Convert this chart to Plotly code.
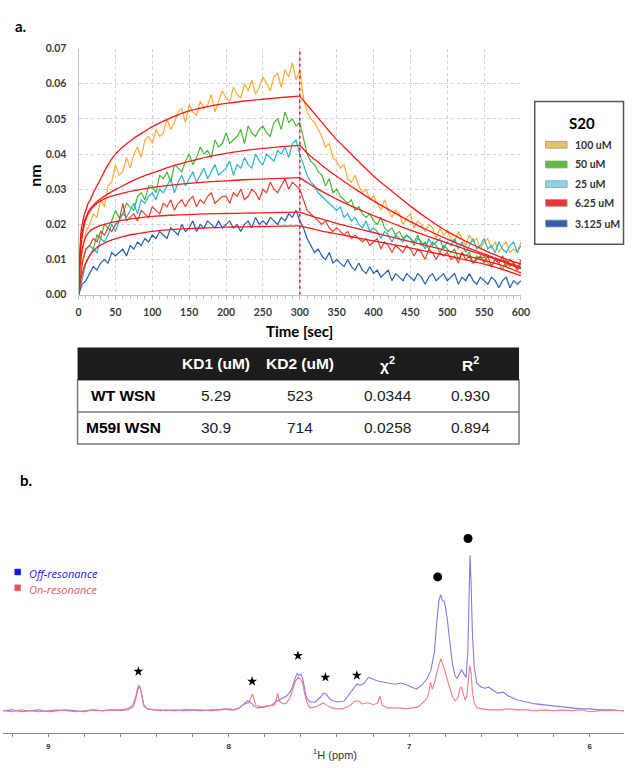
import plotly.graph_objects as go

W, H = 633, 768

# ---------------- Panel a : sensorgram data ----------------
SERIES_NAMES = ["100 uM", "50 uM", "25 uM", "6.25 uM", "3.125 uM"]
LINE_COLORS = ["#FFAA33", "#45B935", "#25B4CC", "#E8402C", "#2260B2"]
SWATCH_COLORS = ["#E8BE62", "#5CBF3A", "#8ED4E8", "#EE3535", "#2E5FB0"]
TIME_STEP = 5  # seconds between samples
SWITCH_T = 300  # association -> dissociation

data_100 = [
    0.000, 0.012, 0.018, 0.020, 0.023, 0.022, 0.027, 0.025, 0.031, 0.032,
    0.037, 0.034, 0.035, 0.039, 0.036, 0.040, 0.042, 0.039, 0.044, 0.045,
    0.043, 0.047, 0.045, 0.046, 0.050, 0.047, 0.049, 0.052, 0.053, 0.049,
    0.054, 0.052, 0.051, 0.055, 0.053, 0.054, 0.057, 0.052, 0.055, 0.058,
    0.056, 0.055, 0.059, 0.057, 0.056, 0.060, 0.058, 0.061, 0.057, 0.059,
    0.062, 0.060, 0.058, 0.062, 0.063, 0.059, 0.064, 0.062, 0.066, 0.061,
    0.064, 0.056, 0.052, 0.050, 0.049, 0.047, 0.045, 0.042, 0.043, 0.039,
    0.038, 0.036, 0.037, 0.033, 0.032, 0.034, 0.031, 0.029, 0.030, 0.027,
    0.028, 0.026, 0.024, 0.027, 0.024, 0.022, 0.024, 0.023, 0.020, 0.022,
    0.023, 0.019, 0.021, 0.020, 0.018, 0.020, 0.019, 0.016, 0.019, 0.017,
    0.018, 0.016, 0.015, 0.018, 0.016, 0.014, 0.017, 0.015, 0.016, 0.013,
    0.015, 0.016, 0.013, 0.015, 0.012, 0.014, 0.015, 0.012, 0.013, 0.012,
    0.015,
]
data_50 = [
    0.000, 0.009, 0.013, 0.014, 0.013, 0.017, 0.016, 0.020, 0.019, 0.021,
    0.024, 0.022, 0.023, 0.026, 0.025, 0.024, 0.028, 0.029, 0.027, 0.031,
    0.031, 0.029, 0.034, 0.033, 0.035, 0.032, 0.037, 0.036, 0.035, 0.038,
    0.040, 0.037, 0.039, 0.042, 0.040, 0.041, 0.039, 0.044, 0.042, 0.043,
    0.046, 0.043, 0.044, 0.045, 0.047, 0.043, 0.048, 0.046, 0.045, 0.047,
    0.048, 0.046, 0.045, 0.049, 0.050, 0.047, 0.052, 0.049, 0.050, 0.048,
    0.049, 0.044, 0.040, 0.038, 0.037, 0.035, 0.034, 0.031, 0.033, 0.029,
    0.030, 0.028, 0.027, 0.026, 0.027, 0.024, 0.025, 0.023, 0.022, 0.023,
    0.021, 0.020, 0.022, 0.019, 0.018, 0.019, 0.017, 0.018, 0.016, 0.017,
    0.016, 0.015, 0.017, 0.014, 0.015, 0.013, 0.015, 0.014, 0.012, 0.014,
    0.013, 0.012, 0.013, 0.010, 0.012, 0.011, 0.012, 0.009, 0.011, 0.010,
    0.011, 0.009, 0.008, 0.010, 0.009, 0.007, 0.010, 0.008, 0.009, 0.007,
    0.009,
]
data_25 = [
    0.000, 0.005, 0.009, 0.011, 0.013, 0.012, 0.016, 0.015, 0.017, 0.020,
    0.018, 0.021, 0.023, 0.022, 0.024, 0.026, 0.023, 0.027, 0.026, 0.028,
    0.029, 0.027, 0.030, 0.029, 0.031, 0.033, 0.029, 0.032, 0.034, 0.031,
    0.033, 0.035, 0.032, 0.034, 0.036, 0.033, 0.035, 0.037, 0.034, 0.035,
    0.036, 0.038, 0.034, 0.037, 0.036, 0.039, 0.037, 0.036, 0.040, 0.038,
    0.037, 0.040, 0.039, 0.038, 0.041, 0.040, 0.042, 0.039, 0.043, 0.044,
    0.040, 0.037, 0.034, 0.032, 0.031, 0.029, 0.028, 0.027, 0.026, 0.025,
    0.024, 0.025, 0.022, 0.023, 0.021, 0.022, 0.020, 0.019, 0.021, 0.018,
    0.019, 0.018, 0.016, 0.018, 0.017, 0.015, 0.017, 0.016, 0.015, 0.017,
    0.016, 0.014, 0.016, 0.015, 0.013, 0.016, 0.014, 0.015, 0.016, 0.013,
    0.015, 0.014, 0.016, 0.013, 0.015, 0.012, 0.014, 0.016, 0.013, 0.014,
    0.016, 0.013, 0.014, 0.012, 0.015, 0.013, 0.012, 0.014, 0.015, 0.012,
    0.014,
]
data_6_25 = [
    0.000, 0.009, 0.013, 0.014, 0.016, 0.015, 0.018, 0.017, 0.019, 0.018,
    0.020, 0.021, 0.026, 0.021, 0.022, 0.023, 0.021, 0.024, 0.023, 0.022,
    0.025, 0.024, 0.023, 0.026, 0.025, 0.027, 0.024, 0.026, 0.027, 0.025,
    0.027, 0.028, 0.025, 0.027, 0.026, 0.028, 0.029, 0.026, 0.027, 0.028,
    0.028, 0.026, 0.029, 0.028, 0.030, 0.027, 0.028, 0.030, 0.029, 0.027,
    0.030, 0.029, 0.032, 0.030, 0.029, 0.031, 0.033, 0.030, 0.032, 0.031,
    0.030, 0.027, 0.024, 0.023, 0.022, 0.021, 0.020, 0.021, 0.019, 0.018,
    0.019, 0.018, 0.017, 0.018, 0.016, 0.017, 0.016, 0.015, 0.016, 0.014,
    0.015, 0.016, 0.013, 0.015, 0.014, 0.012, 0.014, 0.013, 0.012, 0.014,
    0.013, 0.011, 0.013, 0.012, 0.010, 0.013, 0.012, 0.010, 0.012, 0.011,
    0.012, 0.010, 0.011, 0.009, 0.012, 0.010, 0.011, 0.009, 0.010, 0.011,
    0.009, 0.011, 0.008, 0.010, 0.009, 0.011, 0.008, 0.010, 0.009, 0.007,
    0.010,
]
data_3_125 = [
    0.000, 0.003, 0.004, 0.006, 0.008, 0.007, 0.009, 0.010, 0.009, 0.012,
    0.011, 0.012, 0.013, 0.011, 0.014, 0.013, 0.015, 0.014, 0.016, 0.015,
    0.017, 0.016, 0.018, 0.017, 0.016, 0.019, 0.018, 0.017, 0.020, 0.018,
    0.019, 0.021, 0.018, 0.020, 0.019, 0.021, 0.020, 0.019, 0.021, 0.019,
    0.020, 0.021, 0.019, 0.020, 0.018, 0.020, 0.021, 0.019, 0.022, 0.020,
    0.021, 0.020, 0.022, 0.021, 0.020, 0.022, 0.021, 0.023, 0.022, 0.024,
    0.021, 0.019, 0.016, 0.014, 0.012, 0.013, 0.011, 0.010, 0.012, 0.009,
    0.010, 0.009, 0.008, 0.010, 0.008, 0.007, 0.009, 0.007, 0.006, 0.008,
    0.006, 0.007, 0.005, 0.006, 0.007, 0.004, 0.006, 0.005, 0.004, 0.006,
    0.005, 0.004, 0.006, 0.005, 0.003, 0.005, 0.006, 0.004, 0.005, 0.006,
    0.004, 0.005, 0.006, 0.003, 0.005, 0.004, 0.006, 0.004, 0.003, 0.005,
    0.004, 0.003, 0.005, 0.004, 0.002, 0.004, 0.005, 0.002, 0.004, 0.003,
    0.004,
]
SERIES_DATA = [data_100, data_50, data_25, data_6_25, data_3_125]

# fitted curves (red), association part sampled at fit_t_on, dissociation at fit_t_off
fit_t_on = [0, 1, 2, 3, 4, 6, 8, 10, 13, 16, 20, 25, 30, 40, 50, 60, 75, 90, 100,
            125, 150, 175, 200, 225, 250, 275, 300]
fit_t_off = [300, 310, 320, 330, 340, 350, 365, 380, 400, 425, 450, 475, 500, 525,
             550, 575, 600]
fit_100_on = [0.000, 0.008, 0.013, 0.017, 0.019, 0.021, 0.023, 0.024, 0.026, 0.027,
              0.029, 0.031, 0.033, 0.037, 0.040, 0.042, 0.0445, 0.0465, 0.0478,
              0.0503, 0.0523, 0.0535, 0.0544, 0.0551, 0.0556, 0.0561, 0.0565]
fit_100_off = [0.0565, 0.0540, 0.0515, 0.0490, 0.0465, 0.0441, 0.0410, 0.0378, 0.0338,
               0.0294, 0.0252, 0.0214, 0.0180, 0.0152, 0.0127, 0.0105, 0.0087]
fit_50_on = [0.000, 0.007, 0.012, 0.015, 0.017, 0.019, 0.021, 0.022, 0.0235, 0.0245,
             0.0255, 0.0265, 0.0273, 0.0287, 0.0299, 0.0310, 0.0326, 0.0339, 0.0346,
             0.0364, 0.0379, 0.0392, 0.0402, 0.0410, 0.0416, 0.0421, 0.0425]
fit_50_off = [0.0425, 0.0403, 0.0385, 0.0368, 0.0352, 0.0337, 0.0315, 0.0294, 0.0267,
              0.0237, 0.0208, 0.0182, 0.0158, 0.0136, 0.0116, 0.0097, 0.0078]
fit_25_on = [0.000, 0.006, 0.010, 0.013, 0.015, 0.018, 0.020, 0.0215, 0.023, 0.024,
             0.025, 0.026, 0.0267, 0.0277, 0.0283, 0.0289, 0.0296, 0.0302, 0.0305,
             0.0312, 0.0317, 0.0321, 0.0324, 0.0327, 0.0329, 0.0331, 0.0333]
fit_25_off = [0.0333, 0.0319, 0.0306, 0.0294, 0.0283, 0.0272, 0.0257, 0.0243, 0.0225,
              0.0204, 0.0184, 0.0165, 0.0147, 0.0129, 0.0112, 0.0094, 0.0074]
fit_6_25_on = [0.000, 0.005, 0.008, 0.010, 0.012, 0.014, 0.0155, 0.0165, 0.0175, 0.0182,
               0.0188, 0.0193, 0.0197, 0.0203, 0.0208, 0.0212, 0.0217, 0.0221, 0.0223,
               0.0226, 0.0228, 0.0230, 0.0231, 0.0232, 0.0233, 0.0234, 0.0235]
fit_6_25_off = [0.0235, 0.0228, 0.0221, 0.0215, 0.0209, 0.0203, 0.0195, 0.0187, 0.0177,
                0.0164, 0.0151, 0.0138, 0.0125, 0.0112, 0.0098, 0.0083, 0.0062]
fit_3_125_on = [0.000, 0.0015, 0.0030, 0.0042, 0.0052, 0.0068, 0.0081, 0.0091, 0.0104,
                0.0114, 0.0124, 0.0134, 0.0141, 0.0152, 0.0159, 0.0165, 0.0172, 0.0177,
                0.0180, 0.0185, 0.0188, 0.0190, 0.0192, 0.0193, 0.0194, 0.0195, 0.0196]
fit_3_125_off = [0.0196, 0.0191, 0.0186, 0.0181, 0.0177, 0.0173, 0.0167, 0.0161, 0.0153,
                 0.0143, 0.0133, 0.0122, 0.0111, 0.0099, 0.0087, 0.0072, 0.0054]
FITS_ON = [fit_100_on, fit_50_on, fit_25_on, fit_6_25_on, fit_3_125_on]
FITS_OFF = [fit_100_off, fit_50_off, fit_25_off, fit_6_25_off, fit_3_125_off]

X_TICKS_A = [0, 50, 100, 150, 200, 250, 300, 350, 400, 450, 500, 550, 600]
Y_TICKS_A = [0.00, 0.01, 0.02, 0.03, 0.04, 0.05, 0.06, 0.07]
Y_TICK_TEXT_A = ["0.00", "0.01", "0.02", "0.03", "0.04", "0.05", "0.06", "0.07"]

# ---------------- Table ----------------
TABLE_HEADERS = ["KD1 (uM)", "KD2 (uM)", "χ<sup>2</sup>", "R<sup>2</sup>"]
TABLE_ROWS = ["WT WSN", "M59I WSN"]
KD1 = ["5.29", "30.9"]
KD2 = ["523", "714"]
CHI2 = ["0.0344", "0.0258"]
R2 = ["0.930", "0.894"]

# ---------------- Panel b : STD NMR spectra ----------------
off_ppm = [9.25, 9.20, 9.15, 9.10, 9.05, 9.00, 8.95, 8.90, 8.85, 8.80, 8.75, 8.70,
           8.65, 8.60, 8.56, 8.53, 8.515, 8.505, 8.497, 8.49, 8.48, 8.47, 8.45,
           8.42, 8.38, 8.35, 8.30, 8.25, 8.20, 8.15, 8.10, 8.05, 8.00, 7.97,
           7.94, 7.91, 7.895, 7.88, 7.86, 7.84, 7.80, 7.76, 7.74, 7.72, 7.70,
           7.68, 7.66, 7.645, 7.63, 7.62, 7.61, 7.60, 7.59, 7.58, 7.57, 7.55,
           7.52, 7.49, 7.475, 7.46, 7.44, 7.42, 7.39, 7.36, 7.33, 7.30, 7.29,
           7.27, 7.25, 7.23, 7.22, 7.20, 7.17, 7.14, 7.11, 7.08, 7.05, 7.04,
           7.01, 6.98, 6.96, 6.93, 6.90, 6.88, 6.86, 6.845, 6.835, 6.826,
           6.815, 6.805, 6.79, 6.775, 6.76, 6.745, 6.735, 6.72, 6.71, 6.695,
           6.685, 6.675, 6.668, 6.663, 6.657, 6.65, 6.64, 6.625, 6.60, 6.58,
           6.56, 6.53, 6.51, 6.48, 6.45, 6.40, 6.35, 6.30, 6.25, 6.20, 6.15,
           6.10, 6.05, 6.00, 5.95, 5.90, 5.81]
off_int = [0, 1, -1, 0, 1, -1, 0, 1, 0, -1, 1, 0,
           1, 0, 1, 4, 12, 22, 26, 24, 14, 6, 2,
           1, 0, 1, 0, 1, 1, 0, 1, 1, 2, 1,
           3, 8, 10, 9, 5, 3, 4, 6, 9, 11, 13,
           15, 19, 25, 34, 38, 36, 37, 33, 22, 14, 9,
           9, 14, 18, 17, 12, 10, 9, 10, 17, 25, 27,
           26, 28, 33, 34, 32, 30, 29, 28, 27, 28, 28,
           26, 24, 22, 26, 33, 41, 60, 95, 112, 118,
           112, 111, 95, 70, 48, 35, 33, 38, 42, 37,
           34, 60, 120, 158, 130, 80, 45, 28, 24, 23,
           24, 20, 18, 19, 15, 11, 9, 7, 6, 5, 4,
           3, 2, 2, 1, 1, 0]
on_ppm = [9.25, 9.20, 9.15, 9.10, 9.05, 9.00, 8.95, 8.90, 8.85, 8.80, 8.75, 8.70,
          8.65, 8.60, 8.56, 8.53, 8.515, 8.505, 8.497, 8.49, 8.48, 8.47, 8.45,
          8.42, 8.38, 8.35, 8.30, 8.25, 8.20, 8.15, 8.10, 8.05, 8.02, 8.00,
          7.97, 7.94, 7.91, 7.89, 7.875, 7.868, 7.86, 7.85, 7.82, 7.78, 7.745,
          7.735, 7.728, 7.72, 7.70, 7.68, 7.66, 7.645, 7.63, 7.615, 7.60, 7.59,
          7.58, 7.565, 7.55, 7.52, 7.49, 7.475, 7.46, 7.43, 7.40, 7.37, 7.33,
          7.30, 7.28, 7.26, 7.24, 7.22, 7.20, 7.175, 7.162, 7.15, 7.12, 7.08,
          7.05, 7.02, 6.98, 6.95, 6.92, 6.90, 6.89, 6.882, 6.872, 6.86, 6.845,
          6.83, 6.825, 6.815, 6.80, 6.78, 6.76, 6.745, 6.73, 6.718, 6.71, 6.70,
          6.69, 6.68, 6.672, 6.665, 6.657, 6.65, 6.64, 6.625, 6.60, 6.55, 6.50,
          6.45, 6.40, 6.35, 6.30, 6.25, 6.20, 6.15, 6.10, 6.05, 6.00, 5.95,
          5.90, 5.81]
on_int = [0, -1, 1, 0, -1, 0, 1, 0, -1, 0, 1, 0,
          1, 1, 2, 6, 14, 23, 26, 23, 12, 5, 2,
          1, 1, 0, 1, 0, 1, 1, 0, 1, 2, 1,
          1, 3, 7, 8, 14, 17, 12, 6, 4, 5, 6,
          12, 18, 10, 7, 8, 13, 22, 30, 34, 32, 28,
          18, 8, 3, 4, 7, 8, 6, 3, 2, 2, 5,
          10, 10, 7, 8, 8, 6, 8, 15, 6, 3, 3,
          3, 2, 3, 4, 9, 13, 20, 29, 22, 28, 40,
          50, 53, 48, 38, 25, 14, 10, 13, 23, 24, 17,
          11, 15, 30, 46, 38, 20, 8, 3, 2, 1, 1,
          2, 1, 1, 0, 1, 0, 1, 0, 1, -1, 0,
          1, 0]
star_ppm = [8.50, 7.87, 7.616, 7.464, 7.29]
star_int = [40, 30, 56, 34, 36]
dot_ppm = [6.842, 6.674]
dot_int = [136, 175]
X_TICKS_B = [9, 8, 7, 6]


# ---------------- helpers (pixel -> paper) ----------------
def px(x):
    return x / W


def py(y):
    return 1 - y / H


fig = go.Figure()

for name, color, vals in zip(SERIES_NAMES, LINE_COLORS, SERIES_DATA):
    t_axis = [TIME_STEP * i for i in range(len(vals))]
    fig.add_trace(go.Scatter(x=t_axis, y=vals, mode="lines", name=name,
                             line=dict(color=color, width=1.2),
                             xaxis="x", yaxis="y", showlegend=False))
for f_on, f_off in zip(FITS_ON, FITS_OFF):
    fig.add_trace(go.Scatter(x=fit_t_on, y=f_on, mode="lines", name="fit",
                             line=dict(color="#FF1A1A", width=1.3, shape="spline",
                                       smoothing=0.6),
                             xaxis="x", yaxis="y", showlegend=False))
    fig.add_trace(go.Scatter(x=fit_t_off, y=f_off, mode="lines", name="fit",
                             line=dict(color="#FF1A1A", width=1.3, shape="spline",
                                       smoothing=0.6),
                             xaxis="x", yaxis="y", showlegend=False))

fig.add_trace(go.Scatter(x=off_ppm, y=off_int, mode="lines", name="Off-resonance",
                         line=dict(color="#8877EE", width=1.1),
                         xaxis="x2", yaxis="y2", showlegend=False))
fig.add_trace(go.Scatter(x=on_ppm, y=on_int, mode="lines", name="On-resonance",
                         line=dict(color="#F27A8A", width=1.1),
                         xaxis="x2", yaxis="y2", showlegend=False))
fig.add_trace(go.Scatter(x=star_ppm, y=star_int, mode="markers",
                         marker=dict(symbol="star", size=7.5, color="black"),
                         xaxis="x2", yaxis="y2", showlegend=False))
fig.add_trace(go.Scatter(x=dot_ppm, y=dot_int, mode="markers",
                         marker=dict(symbol="circle", size=9, color="black"),
                         xaxis="x2", yaxis="y2", showlegend=False))

tickfont_a = dict(family="Lato", size=10.5, color="#3c3c3c", weight="bold")
grid_c = "#C9D3DE"

fig.update_layout(
    width=W, height=H,
    margin=dict(l=0, r=0, t=0, b=0),
    paper_bgcolor="white", plot_bgcolor="white",
    xaxis=dict(domain=[px(77), px(528)], range=[0, 600], anchor="y",
               tickvals=X_TICKS_A, showgrid=True, gridcolor=grid_c, griddash="dot",
               gridwidth=1, showline=True, linecolor="#B8C6D4", linewidth=1,
               ticks="outside", ticklen=4, tickcolor="#B8C6D4",
               minor=dict(ticks="outside", dtick=10, ticklen=3, tickcolor="#B8C6D4",
                          showgrid=False),
               tickfont=tickfont_a, ticklabelstandoff=4, zeroline=False),
    yaxis=dict(domain=[py(293.3), py(43.3)], range=[0, 0.07], anchor="x",
               tickvals=Y_TICKS_A, ticktext=Y_TICK_TEXT_A,
               showgrid=True, gridcolor=grid_c, griddash="dot", gridwidth=1,
               showline=True, linecolor="#B8C6D4", linewidth=1, ticks="",
               tickfont=tickfont_a, ticklabelstandoff=9, zeroline=False),
    xaxis2=dict(domain=[0, 1], range=[9.25, 5.81], anchor="y2",
                tickvals=X_TICKS_B, showgrid=False, showline=True,
                linecolor="#8A8A8A", linewidth=1, ticks="outside", ticklen=3,
                tickcolor="#8A8A8A",
                minor=dict(ticks="outside", dtick=0.2, tick0=6, ticklen=3,
                           tickcolor="#8A8A8A"),
                tickfont=dict(family="Liberation Sans", size=8, color="#333",
                              weight="bold"),
                ticklabelstandoff=2, zeroline=False),
    yaxis2=dict(domain=[py(739), py(530)], range=[-23, 186], anchor="x2",
                visible=False),
)

shapes = []
ann = []

# switch line (association -> dissociation)
shapes.append(dict(type="line", xref="x", yref="y domain", x0=SWITCH_T, x1=SWITCH_T,
                   y0=0, y1=1, line=dict(color="#E8202A", width=1.5, dash="dot")))

# panel labels
ann.append(dict(text="<b>a.</b>", x=px(10), y=py(20), xref="paper", yref="paper",
                xanchor="left", yanchor="middle", showarrow=False,
                font=dict(family="Lato", size=15, color="black")))
ann.append(dict(text="<b>b.</b>", x=px(15), y=py(482), xref="paper", yref="paper",
                xanchor="left", yanchor="middle", showarrow=False,
                font=dict(family="Lato", size=15, color="black")))

# axis titles panel a
ann.append(dict(text="<b>Time [sec]</b>", x=px(302), y=py(330), xref="paper",
                yref="paper", xanchor="center", yanchor="middle", showarrow=False,
                font=dict(family="Lato", size=15, color="black")))
ann.append(dict(text="<b>nm</b>", x=px(32), y=py(172), xref="paper", yref="paper",
                xanchor="center", yanchor="middle", showarrow=False, textangle=-90,
                font=dict(family="Lato", size=16, color="black")))

# legend box panel a
shapes.append(dict(type="rect", xref="paper", yref="paper", x0=px(542), x1=px(632.5),
                   y0=py(242), y1=py(97), line=dict(color="#555555", width=1.5),
                   fillcolor="white"))
ann.append(dict(text="<b>S20</b>", x=px(590), y=py(119), xref="paper", yref="paper",
                xanchor="center", yanchor="middle", showarrow=False,
                font=dict(family="Lato", size=15, color="black")))
entry_y = [141, 161, 181, 200, 221]
for name, col, ey in zip(SERIES_NAMES, SWATCH_COLORS, entry_y):
    shapes.append(dict(type="rect", xref="paper", yref="paper", x0=px(553), x1=px(575),
                       y0=py(ey + 3.5), y1=py(ey - 3.5),
                       line=dict(color="#9A9A9A", width=0.8), fillcolor=col))
    ann.append(dict(text=name, x=px(581), y=py(ey), xref="paper", yref="paper",
                    xanchor="left", yanchor="middle", showarrow=False,
                    font=dict(family="Lato", size=10.5, color="#333", weight="bold")))

# table
shapes.append(dict(type="rect", xref="paper", yref="paper", x0=px(76), x1=px(526),
                   y0=py(445), y1=py(380), line=dict(color="#7A7A7A", width=1.5),
                   fillcolor="white"))
shapes.append(dict(type="rect", xref="paper", yref="paper", x0=px(76), x1=px(526),
                   y0=py(380), y1=py(347), line=dict(color="#1C1C1C", width=0),
                   fillcolor="#1C1C1C"))
shapes.append(dict(type="line", xref="paper", yref="paper", x0=px(76), x1=px(526),
                   y0=py(412.5), y1=py(412.5), line=dict(color="#7A7A7A", width=1.5)))
col_x = [217, 303, 392, 477]
for hx, htxt in zip(col_x, TABLE_HEADERS):
    ann.append(dict(text="<b>" + htxt + "</b>", x=px(hx), y=py(363.5), xref="paper",
                    yref="paper", xanchor="center", yanchor="middle", showarrow=False,
                    font=dict(family="Liberation Sans", size=15.5, color="white")))
row_y = [395.5, 428.5]
for i, ry in enumerate(row_y):
    ann.append(dict(text="<b>" + TABLE_ROWS[i] + "</b>", x=px(123), y=py(ry),
                    xref="paper", yref="paper", xanchor="center", yanchor="middle",
                    showarrow=False,
                    font=dict(family="Liberation Sans", size=15.5, color="black")))
    for cx, vals in zip(col_x, [KD1, KD2, CHI2, R2]):
        ann.append(dict(text=vals[i], x=px(cx), y=py(ry), xref="paper", yref="paper",
                        xanchor="center", yanchor="middle", showarrow=False,
                        font=dict(family="Liberation Sans", size=15.5, color="#222")))

# panel b legend
shapes.append(dict(type="rect", xref="paper", yref="paper", x0=px(12), x1=px(18),
                   y0=py(578), y1=py(572), line=dict(color="#1515E0", width=0.5),
                   fillcolor="#1515E0"))
shapes.append(dict(type="rect", xref="paper", yref="paper", x0=px(12), x1=px(18),
                   y0=py(594), y1=py(588), line=dict(color="#E05555", width=0.5),
                   fillcolor="#E05555"))
ann.append(dict(text="<i>Off-resonance</i>", x=px(24), y=py(577), xref="paper",
                yref="paper", xanchor="left", yanchor="middle", showarrow=False,
                font=dict(family="Open Sans", size=11, color="#1A1AE6")))
ann.append(dict(text="<i>On-resonance</i>", x=px(24), y=py(593), xref="paper",
                yref="paper", xanchor="left", yanchor="middle", showarrow=False,
                font=dict(family="Open Sans", size=11, color="#E25A5A")))

# panel b x title
ann.append(dict(text="<sup>1</sup>H (ppm)", x=px(338), y=py(760), xref="paper",
                yref="paper", xanchor="center", yanchor="middle", showarrow=False,
                font=dict(family="Liberation Sans", size=11, color="#333")))

fig.update_layout(shapes=shapes, annotations=ann)
fig.write_html("out.html",
               config={"displayModeBar": False},
               post_script="document.body.style.margin='0';"
                           "document.body.style.overflow='hidden';")
